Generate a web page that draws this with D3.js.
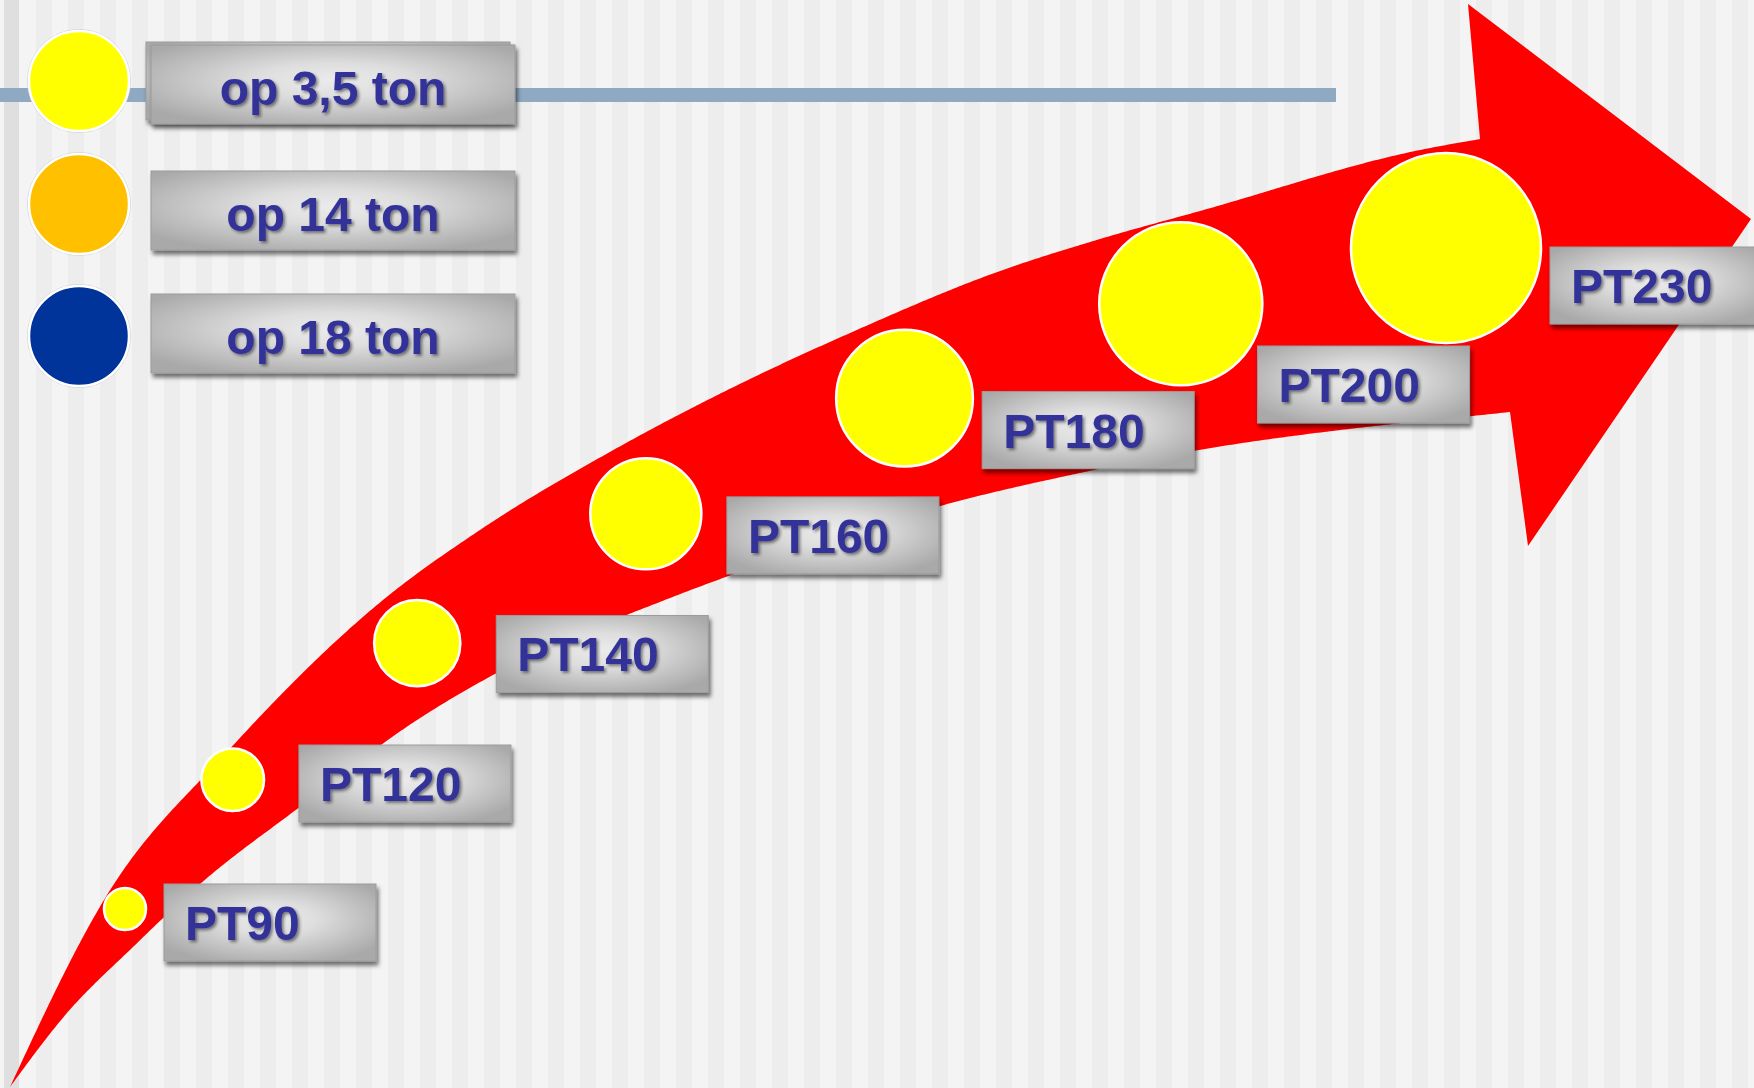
<!DOCTYPE html>
<html><head><meta charset="utf-8">
<script src="https://cdn.jsdelivr.net/npm/d3@7"></script>
<style>html,body{margin:0;padding:0;background:#f3f3f3;overflow:hidden}</style>
</head><body><svg id="chart" width="1754" height="1088"></svg>
<script>
// ---------- data ----------
const models = ["PT90","PT120","PT140","PT160","PT180","PT200","PT230"];
const legendLabels = ["op 3,5 ton","op 14 ton","op 18 ton"];
const legendColors = ["#ffff00","#ffc000","#00349a"];
const markerColor = "#ffff00";

// ---------- layout ----------
const W = 1754, H = 1088;
const svg = d3.select("#chart");
const defs = svg.append("defs");

const grad = defs.append("radialGradient").attr("id","boxGrad")
  .attr("cx","50%").attr("cy","45%").attr("r","62%");
grad.append("stop").attr("offset","0%").attr("stop-color","#ebebeb");
grad.append("stop").attr("offset","35%").attr("stop-color","#dedede");
grad.append("stop").attr("offset","100%").attr("stop-color","#a9a9a9");

const boxShadow = defs.append("filter").attr("id","boxShadow")
  .attr("x","-10%").attr("y","-10%").attr("width","130%").attr("height","140%");
boxShadow.append("feDropShadow").attr("dx",2).attr("dy",4).attr("stdDeviation",2)
  .attr("flood-color","#000").attr("flood-opacity",0.55);

const txtShadow = defs.append("filter").attr("id","txtShadow")
  .attr("x","-10%").attr("y","-20%").attr("width","130%").attr("height","150%");
txtShadow.append("feDropShadow").attr("dx",2).attr("dy",2).attr("stdDeviation",1.6)
  .attr("flood-color","#222").attr("flood-opacity",0.55);

// background stripes
svg.append("rect").attr("width",W).attr("height",H).attr("fill","#f4f4f4");
svg.append("g").selectAll("rect").data(d3.range(36, W, 32)).join("rect")
  .attr("x", d => d).attr("y",0).attr("width",16).attr("height",H).attr("fill","#ededed");
svg.append("rect").attr("x",4).attr("y",0).attr("width",15).attr("height",H).attr("fill","#dfdfdf");

// horizontal bar behind legend
svg.append("rect").attr("x",0).attr("y",88).attr("width",1336).attr("height",14).attr("fill","#8fa9c3");

// ---------- arrow (decorative shape) ----------
const upperEdge = [[10,1087],[107,895],[227,752],[383,600],[483,528],[617,448],[750,379],[850,333],[1000,271],[1100,239],[1200,211],[1420,150],[1480,139]];
const lowerEdge = [[10,1087],[67,1013],[133,947],[200,884],[297,809],[417,720],[493,675],[670,598],[800,551],[933,508],[1080,473],[1193,451],[1393,424],[1472,416],[1510,412]];
const arrowHead = [[1468,4],[1751,219],[1528,546]];

function sampleEdge(points) {
  const p = svg.append("path").attr("d", d3.line().curve(d3.curveMonotoneX)(points)).attr("fill","none");
  const node = p.node(), L = node.getTotalLength(), out = [];
  for (let s = 0; s < L; s += 3) { const q = node.getPointAtLength(s); out.push([q.x, q.y]); }
  const e = node.getPointAtLength(L); out.push([e.x, e.y]);
  p.remove();
  return out;
}
const outline = sampleEdge(upperEdge).concat(arrowHead, sampleEdge(lowerEdge).reverse());
svg.append("path").attr("d", d3.line()(outline) + "Z").attr("fill","#ff0000");

// ---------- markers ----------
const n = models.length - 1;
const idx = d3.range(models.length);
// progress along the arrow
const tY = d3.scalePow().exponent(1.1).domain([0, n]).range([0, 1]);
const tX = d3.scalePow().exponent(1.45).domain([0, n]).range([0, 1]);
const cx = d3.scalePow().exponent(1.1).domain([0, 1]).range([1446, 125]);
const cy = d3.scalePow().exponent(1.45).domain([0, 1]).range([248, 909]);
const rs = d3.scaleLinear().domain([0, 1]).range([21, 95]);
const bx = d3.scalePow().exponent(1.3).domain([0, n]).range([164, 1550]);
const by = d3.scalePow().exponent(1.35).domain([0, n]).range([247, 884]);
const boxW = 212, boxH = 77;

const pts = idx.map(i => ({name: models[i], x: cx(1 - tX(i)), y: cy(1 - tY(i)), r: rs(tY(i))}));
const boxes = idx.map(i => {
  let x = bx(i), y = by(n - i);
  if (i < n) {
    const nx = pts[i + 1];
    if (x < nx.x + nx.r && x + boxW > nx.x - nx.r) y = Math.max(y, nx.y + nx.r + 3);
  }
  return {name: models[i], x, y};
});

svg.append("g").selectAll("circle").data(pts).join("circle")
  .attr("cx", d => d.x).attr("cy", d => d.y).attr("r", d => d.r)
  .attr("fill", markerColor).attr("stroke","#ffffff").attr("stroke-width",2.5);

const lab = svg.append("g").selectAll("g").data(boxes).join("g")
  .attr("transform", d => `translate(${d.x},${d.y})`);
lab.append("rect").attr("width", boxW).attr("height", boxH)
  .attr("fill","url(#boxGrad)").attr("stroke","#9c9c9c").attr("stroke-width",1)
  .attr("filter","url(#boxShadow)");
lab.append("text").attr("x", 21).attr("y", 56).text(d => d.name)
  .attr("font-family","'Liberation Sans', Arial, sans-serif").attr("font-weight","bold")
  .attr("font-size", 48).attr("fill","#333399").attr("filter","url(#txtShadow)");

// ---------- legend ----------
const ly = d3.scaleLinear().domain([0, 1, 2]).range([81, 204, 336]);
const lby = d3.scaleLinear().domain([0, 1, 2]).range([45, 171, 294]);
const leg = svg.append("g");
leg.append("rect").attr("x",146).attr("y",42).attr("width",364).attr("height",78)
  .attr("fill","url(#boxGrad)").attr("stroke","#9c9c9c").attr("filter","url(#boxShadow)");
leg.selectAll("circle.o").data(legendColors).join("circle").attr("class","o")
  .attr("cx",79).attr("cy",(d,i)=>ly(i)).attr("r",51.5).attr("fill","none")
  .attr("stroke","#d2d2d2").attr("stroke-width",1);
leg.selectAll("circle.c").data(legendColors).join("circle").attr("class","c")
  .attr("cx",79).attr("cy",(d,i)=>ly(i)).attr("r",50).attr("fill",d=>d)
  .attr("stroke","#ffffff").attr("stroke-width",2.5);
const lg = leg.selectAll("g").data(legendLabels).join("g")
  .attr("transform",(d,i)=>`translate(151,${lby(i)})`);
lg.append("rect").attr("width",364).attr("height",79)
  .attr("fill","url(#boxGrad)").attr("stroke","#9c9c9c").attr("filter","url(#boxShadow)");
lg.append("text").attr("x",182).attr("y",60).attr("text-anchor","middle").text(d=>d)
  .attr("font-family","'Liberation Sans', Arial, sans-serif").attr("font-weight","bold")
  .attr("font-size",48).attr("fill","#333399").attr("filter","url(#txtShadow)");
</script></body></html>
